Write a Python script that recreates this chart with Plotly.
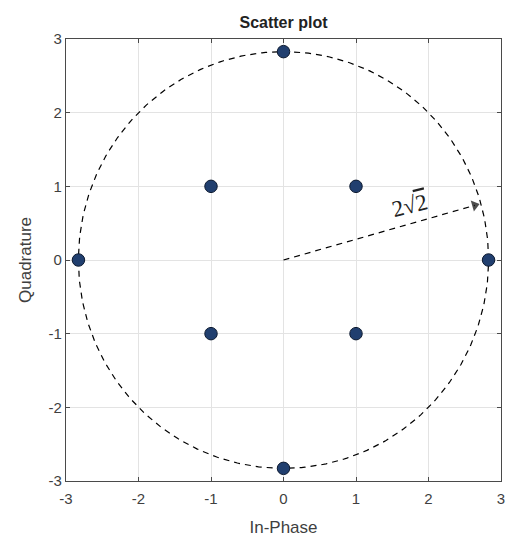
import numpy as np
import plotly.graph_objects as go

# 8-QAM constellation: in-phase / quadrature components
in_phase = [-1, -1, 1, 1, 0, 0, -2 * np.sqrt(2), 2 * np.sqrt(2)]
quadrature = [-1, 1, -1, 1, 2 * np.sqrt(2), -2 * np.sqrt(2), 0, 0]

radius = 2 * np.sqrt(2)          # outer ring radius
arrow_angle_deg = 15.7           # direction of the radius marker
arrow_len = 2.74

tick_vals = [-3, -2, -1, 0, 1, 2, 3]
tick_text = ["-3", "-2", "-1", "0", "1", "2", "3"]

fig = go.Figure()

# dashed reference circle
theta = np.linspace(0, 2 * np.pi, 361)
fig.add_trace(go.Scatter(
    x=radius * np.cos(theta), y=radius * np.sin(theta),
    mode="lines", line=dict(color="black", width=1.2, dash="6px,5px"),
    hoverinfo="skip", showlegend=False))

# dashed radius arrow
a = np.deg2rad(arrow_angle_deg)
fig.add_trace(go.Scatter(
    x=[0, arrow_len * np.cos(a)], y=[0, arrow_len * np.sin(a)],
    mode="lines+markers",
    line=dict(color="black", width=1.2, dash="6px,5px"),
    marker=dict(symbol="triangle-up", size=[0, 10], angleref="previous",
                color="black", line=dict(width=0)),
    hoverinfo="skip", showlegend=False))

# constellation points
fig.add_trace(go.Scatter(
    x=in_phase, y=quadrature, mode="markers",
    marker=dict(size=12.5, color="#213f6f", line=dict(color="#0d1a30", width=1)),
    showlegend=False))

fig.add_annotation(
    x=1.75, y=0.74, text="2√<span style='text-decoration:overline'>2</span>",
    showarrow=False, textangle=-14,
    font=dict(family="Liberation Serif", size=23, color="#222222"))

axis_common = dict(
    range=[-3, 3], tickvals=tick_vals, ticktext=tick_text,
    showgrid=True, gridcolor="#e3e3e3",
    gridwidth=1, zeroline=False, showline=True, linecolor="#4a4a4a",
    linewidth=1.3, mirror="ticks", ticks="inside", ticklen=4,
    tickcolor="#4a4a4a", tickfont=dict(size=15, color="#3f3f3f"),
    title_font=dict(size=17, color="#3f3f3f"))

fig.update_xaxes(title_text="In-Phase", title_standoff=14,
                 ticklabelstandoff=4, **axis_common)
fig.update_yaxes(title_text="Quadrature", title_standoff=12, **axis_common)

fig.update_layout(
    width=513, height=543,
    margin=dict(l=66, r=8, t=39, b=62),
    paper_bgcolor="white", plot_bgcolor="white",
    font=dict(family="Liberation Sans"),
    title=dict(text="<b>Scatter plot</b>", x=0.5, xanchor="center",
               xref="paper", y=1, yref="paper", yanchor="bottom",
               pad=dict(b=11), font=dict(size=16, color="#222222")))

fig.write_html("out.html")
